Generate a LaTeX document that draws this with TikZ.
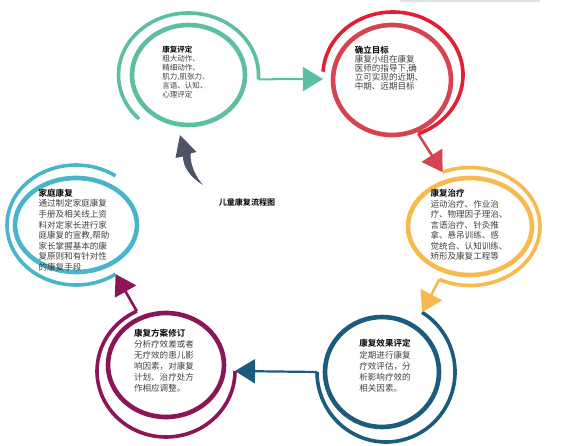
\documentclass[tikz,border=0pt]{standalone}
\usepackage{fontspec}
\setmainfont{Noto Sans CJK SC}[BoldFont={Noto Sans CJK SC Bold}]
\usepackage{tikz}
\usetikzlibrary{arrows.meta,calc}
\definecolor{evalteal}{HTML}{5DBEA3}
\definecolor{goalred}{HTML}{E11F35}
\definecolor{goalredin}{HTML}{D6454F}
\definecolor{treatgold}{HTML}{F7BA4F}
\definecolor{effectblue}{HTML}{1B5B7E}
\definecolor{reviseplum}{HTML}{8B1557}
\definecolor{homecyan}{HTML}{49B5CB}
\definecolor{backslate}{HTML}{4B5565}
\definecolor{bodygray}{HTML}{3F3F3F}
\newcommand{\stagetitle}[1]{\textcolor{black}{\bfseries #1}}
\tikzset{
  ringin/.style={line width=4.6pt},
  ringout/.style={line width=3.6pt},
  stagelink/.style={-{Triangle[length=20pt,width=24pt]},line width=2.6pt},
  stagetext/.style={align=left,inner sep=0pt,text=bodygray}
}
\begin{document}
\begin{tikzpicture}[x=0.035cm,y=0.035cm]
\path[use as bounding box] (0,0) rectangle (582,445);
\draw[black!12,line width=2pt] (400,444)--(540,444);
\coordinate (c1) at (188.5,370);
\coordinate (c2) at (392,365);
\coordinate (o2) at (393,370);
\coordinate (c3) at (470,218.5);
\coordinate (c4) at (382,73);
\coordinate (o4) at (386,73);
\coordinate (c5) at (166,80);
\coordinate (o5) at (166,74);
\coordinate (c6) at (76,220);
\coordinate (s2) at (323,366);
\coordinate (s3) at ($(c3)+(113:70 and 59)$);
\coordinate (s4) at ($(o4)+(58.5:69 and 70)$);
\coordinate (s5) at ($(o5)+(0:69 and 66)$);
\coordinate (s6) at ($(c6)+(305:69 and 60)$);
\draw[ringin,draw=evalteal] (c1) ellipse[x radius=56.5,y radius=50];
\draw[ringout,draw=evalteal] ($(c1)+(225:70 and 62)$)
  arc[start angle=225,end angle=-4,x radius=70,y radius=62] coordinate (e1);
\draw[ringin,draw=goalredin] (c2) ellipse[x radius=59,y radius=55];
\draw[ringout,draw=goalred] ($(o2)+(177:70 and 63)$)
  arc[start angle=177,end angle=-69,x radius=70,y radius=63] coordinate (e2);
\draw[ringin,draw=treatgold] (c3) ellipse[x radius=62,y radius=48.5];
\draw[ringout,draw=treatgold] (s3)
  arc[start angle=113,end angle=-116,x radius=70,y radius=59] coordinate (e3);
\draw[ringin,draw=effectblue] (c4) ellipse[x radius=57,y radius=55];
\draw[ringout,draw=effectblue] (s4)
  arc[start angle=58.5,end angle=-180,x radius=69,y radius=70] coordinate (e4);
\draw[ringin,draw=reviseplum] (c5) ellipse[x radius=58,y radius=52];
\draw[ringout,draw=reviseplum] (s5)
  arc[start angle=0,end angle=-245,x radius=69,y radius=66] coordinate (e5);
\draw[ringin,draw=homecyan] (c6) ellipse[x radius=61,y radius=47];
\draw[ringout,draw=homecyan] (s6)
  arc[start angle=305,end angle=55,x radius=69,y radius=60];
\draw[stagelink,draw=evalteal,line width=2pt] (e1)--(s2);
\draw[stagelink,draw=goalredin] (e2)--(s3);
\draw[stagelink,draw=treatgold] (e3)--(s4);
\draw[stagelink,draw=effectblue,line width=2.2pt] (e4)--(s5);
\draw[stagelink,draw=reviseplum] (e5)--(s6);
\fill[backslate] (203,260) .. controls (190,268) and (183,278) .. (183,288.5)
  -- (175.5,287) -- (180,310) -- (196.5,293) -- (190.5,291.5)
  .. controls (190,280) and (196,268) .. (203,260) -- cycle;
\node[stagetext,font=\fontsize{7.5}{8.8}\selectfont] (t1) at (186,373)
  {\stagetitle{康复评定}\\粗大动作、\\精细动作、\\肌力,肌张力、\\言语、认知、\\心理评定};
\node[stagetext,font=\fontsize{8.5}{9}\selectfont] (t2) at (389,377)
  {\stagetitle{确立目标}\\康复小组在康复\\医师的指导下,确\\立可实现的近期、\\中期、远期目标};
\node[stagetext,font=\fontsize{8.5}{10.5}\selectfont] (t3) at (469,220)
  {\stagetitle{康复治疗}\\运动治疗、作业治\\疗、物理因子理治、\\言语治疗、针灸推\\拿、悬吊训练、感\\觉统合、认知训练、\\矫形及康复工程等};
\node[stagetext,font=\fontsize{8.5}{11.2}\selectfont] (t4) at (385,79)
  {\stagetitle{康复效果评定}\\定期进行康复\\疗效评估，分\\析影响疗效的\\相关因素。};
\node[stagetext,font=\fontsize{8.5}{11}\selectfont] (t5) at (164,84)
  {\stagetitle{康复方案修订}\\分析疗效差或者\\无疗效的患儿影\\响因素，对康复\\计划、治疗处方\\作相应调整。};
\node[stagetext,font=\fontsize{8.5}{10.5}\selectfont] (t6) at (74,215)
  {\stagetitle{家庭康复}\\通过制定家庭康复\\手册及相关线上资\\料对定家长进行家\\庭康复的宣教,帮助\\家长掌握基本的康\\复原则和有针对性\\的康复手段};
\node[font=\fontsize{8}{9}\selectfont\bfseries] (title) at (247,243) {儿童康复流程图};
\end{tikzpicture}
\end{document}
